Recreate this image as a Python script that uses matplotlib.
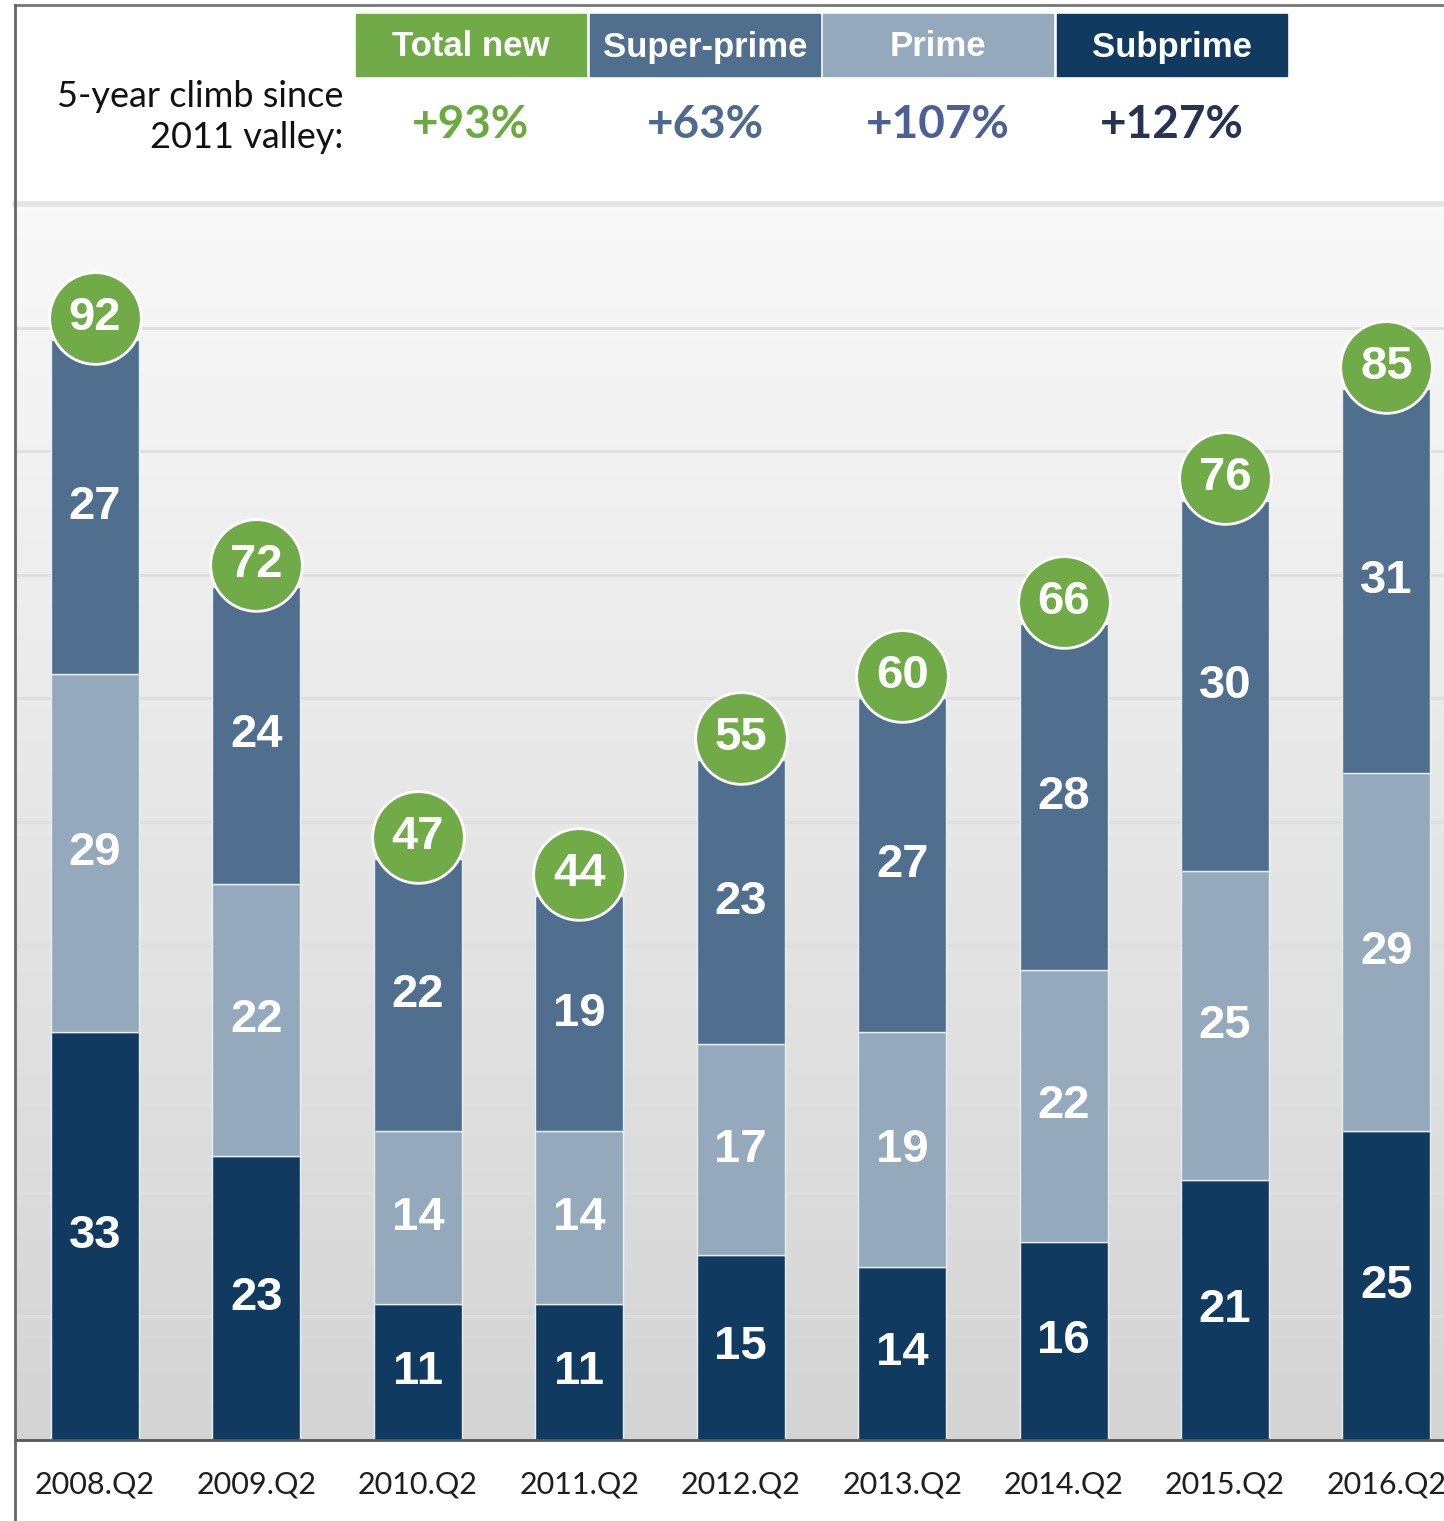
import numpy as np
import matplotlib.pyplot as plt
from matplotlib.patches import Rectangle
from matplotlib.lines import Line2D

# data
quarters = ['2008.Q2', '2009.Q2', '2010.Q2', '2011.Q2', '2012.Q2',
            '2013.Q2', '2014.Q2', '2015.Q2', '2016.Q2']
subprime = [33, 23, 11, 11, 15, 14, 16, 21, 25]
prime = [29, 22, 14, 14, 17, 19, 22, 25, 29]
superprime = [27, 24, 22, 19, 23, 27, 28, 30, 31]
total_new = [92, 72, 47, 44, 55, 60, 66, 76, 85]

legend_names = ['Total new', 'Super-prime', 'Prime', 'Subprime']
climb_pct = ['+93%', '+63%', '+107%', '+127%']

c_green = '#70ab48'
c_super = '#506e8e'
c_prime = '#94a9bb'
c_sub = '#113a61'
pct_colors = ['#6aaa3f', '#4f6a8f', '#4b6094', '#273352']

narrow = ['Liberation Sans Narrow', 'Liberation Sans', 'DejaVu Sans']
plain = ['Lato', 'DejaVu Sans']

W, H = 1444, 1521
fig = plt.figure(figsize=(W / 100, H / 100), dpi=100)


def fx(px):
    return px / W


def fy(py):
    return 1 - py / H


ax = fig.add_axes([fx(15), fy(1440), fx(1444) - fx(15), fy(204) - fy(1440)])
x = np.arange(len(quarters))
x0, x1 = -0.496, 8.357

# gradient background, light on top
grad = np.linspace(0, 1, 256).reshape(-1, 1)
top_c = np.array([249, 249, 249]) / 255
bot_c = np.array([212, 212, 212]) / 255
img = top_c + (bot_c - top_c) * grad
ax.imshow(img.reshape(256, 1, 3), extent=[x0, x1, 0, 100], origin='upper',
          aspect='auto', zorder=0)
ax.set_xlim(x0, x1)
ax.set_ylim(0, 100)

for g in range(10, 100, 10):
    ax.axhline(g, color='#dedede', lw=2, zorder=1)

w = 0.545
sub = np.array(subprime)
pri = np.array(prime)
sup = np.array(superprime)
ax.bar(x, sub, w, color=c_sub, edgecolor='#e8eef4', lw=1, zorder=2)
ax.bar(x, pri, w, bottom=sub, color=c_prime, edgecolor='#e8eef4', lw=1, zorder=2)
ax.bar(x, sup, w, bottom=sub + pri, color=c_super, edgecolor='#e8eef4', lw=1, zorder=2)

for i in range(len(x)):
    for val, base in [(sub[i], 0), (pri[i], sub[i]), (sup[i], sub[i] + pri[i])]:
        ax.text(x[i], base + val / 2, str(val), color='white', fontsize=34,
                fontweight='bold', family=narrow, ha='center', va='center', zorder=4)

tops = sub + pri + sup + 1.8
ax.scatter(x, tops, s=66 ** 2, color=c_green, edgecolor='white', lw=2,
           zorder=5, clip_on=False)
for i in range(len(x)):
    ax.text(x[i], tops[i], str(total_new[i]), color='white', fontsize=34,
            fontweight='bold', family=narrow, ha='center', va='center', zorder=6)

ax.set_xticks(x)
ax.set_xticklabels(quarters, fontsize=22, family=plain, color='#1e1e1e')
ax.tick_params(axis='x', length=0, pad=22)
ax.set_yticks([])
for s in ['top', 'right', 'left']:
    ax.spines[s].set_visible(False)
ax.spines['bottom'].set_color('#555555')
ax.spines['bottom'].set_linewidth(2)

# header
fig.add_artist(Rectangle((fx(15), fy(204)), 1, fy(5) - fy(204),
                         transform=fig.transFigure, color='white', zorder=0))
fig.add_artist(Line2D([fx(15), 1], [fy(204), fy(204)], transform=fig.transFigure,
                      color='#e4e4e4', lw=4))
fig.add_artist(Line2D([fx(15), 1], [fy(5), fy(5)], transform=fig.transFigure,
                      color='#777777', lw=2))
fig.add_artist(Line2D([fx(15), fx(15)], [0, fy(5)], transform=fig.transFigure,
                      color='#666666', lw=2))

box_left = [356, 590, 823, 1057]
box_colors = [c_green, c_super, c_prime, c_sub]
bw = 230
for i in range(4):
    fig.add_artist(Rectangle((fx(box_left[i]), fy(76)), fx(bw), fy(14) - fy(76),
                             transform=fig.transFigure, color=box_colors[i]))
    fig.text(fx(box_left[i] + bw / 2), fy(47), legend_names[i], color='white',
             fontsize=25, fontweight='bold', family=narrow, ha='center', va='center')
    fig.text(fx(box_left[i] + bw / 2), fy(125), climb_pct[i], color=pct_colors[i],
             fontsize=33, fontweight='bold', family=plain, ha='center', va='center')

fig.text(fx(343), fy(117), '5-year climb since\n2011 valley:', fontsize=26,
         family=plain, ha='right', va='center', color='#111111', linespacing=1.3)

fig.savefig('out.png', dpi=100)
